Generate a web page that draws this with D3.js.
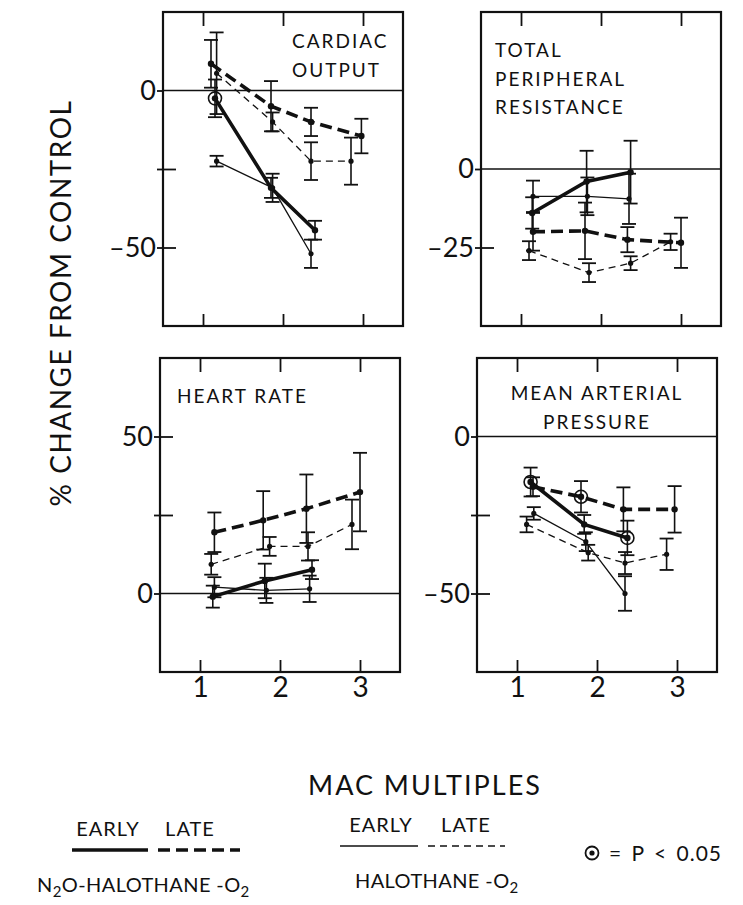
<!DOCTYPE html>
<html>
<head>
<meta charset="utf-8">
<script src="https://cdn.jsdelivr.net/npm/d3@7"></script>
<style>
  body { margin: 0; background: #fff; }
  text { font-family: Lato, "Open Sans", sans-serif; fill: #111; }
</style>
</head>
<body>
<script>
// each point: [MAC multiple, % change from control, SE, significant (1 = circled)]
var macTicks = [1, 2, 3];

// cardiac output
var coN2oEarly = [[1.15, -2.5, 6, 1], [1.85, -31, 3.2, 0], [2.4, -44.5, 3, 0]];
var coN2oLate  = [[1.1, 8.5, 7.6, 0], [1.85, -5, 8, 0], [2.35, -10, 4.5, 0], [2.98, -14.5, 5.5, 0]];
var coHalEarly = [[1.17, -22.5, 1.7, 0], [1.87, -31, 4.5, 0], [2.35, -52, 4.5, 0]];
var coHalLate  = [[1.17, 5.5, 13, 0], [1.87, -10, 3, 0], [2.35, -22.5, 6, 0], [2.85, -22.5, 7.5, 0]];

// total peripheral resistance
var tprN2oEarly = [[1.14, -14, 5, 0], [1.82, -4, 9.8, 0], [2.37, -1, 10, 0]];
var tprN2oLate  = [[1.15, -20, 6, 0], [1.8, -19.7, 9, 0], [2.33, -22.5, 4, 0], [3.0, -23.5, 8, 0]];
var tprHalEarly = [[1.15, -8.7, 5, 0], [1.83, -8.7, 6, 0], [2.35, -9.5, 8, 0]];
var tprHalLate  = [[1.1, -26, 3, 0], [1.85, -33, 3, 0], [2.37, -30, 2.2, 0], [2.87, -23.2, 2.6, 0]];

// heart rate
var hrN2oEarly = [[1.16, -1, 3.5, 0], [1.81, 4, 5.5, 0], [2.4, 7.6, 3, 0]];
var hrN2oLate  = [[1.18, 19.5, 6.3, 0], [1.79, 23.3, 9.3, 0], [2.33, 27, 10.9, 0], [3.0, 32.3, 12.5, 0]];
var hrHalEarly = [[1.18, 2, 3.2, 0], [1.83, 1, 4, 0], [2.37, 1.5, 4.2, 0]];
var hrHalLate  = [[1.14, 9.3, 3.3, 0], [1.87, 15, 3, 0], [2.35, 15, 4.5, 0], [2.9, 22, 7.9, 0]];

// mean arterial pressure
var mapN2oEarly = [[1.17, -14.5, 4.6, 1], [1.84, -28, 3, 0], [2.38, -32.3, 5.5, 1]];
var mapN2oLate  = [[1.2, -16, 3, 0], [1.8, -19.2, 5, 1], [2.33, -23.2, 7, 0], [2.97, -23.2, 7.4, 0]];
var mapHalEarly = [[1.21, -24.5, 2, 0], [1.86, -33.5, 3, 0], [2.35, -50, 5.5, 0]];
var mapHalLate  = [[1.12, -28, 2.5, 0], [1.89, -37, 2.5, 0], [2.35, -40.3, 3.5, 0], [2.87, -37.5, 5, 0]];

var svgWidth = 743, svgHeight = 905;
var panelW = 240, panelH = 314;

var styles = {
  n2oEarly: { width: 3.6, dash: null, r: 3.2 },
  n2oLate:  { width: 3.6, dash: '12,6', r: 3.2 },
  halEarly: { width: 1.3, dash: null, r: 2.6 },
  halLate:  { width: 1.3, dash: '7,5', r: 2.6 }
};

var panels = [
  { x0: 163, y0: 12, domain: [-75, 25], ticks: [-50, -25, 0], labels: [-50, 0],
    title: ['CARDIAC', 'OUTPUT'], tx: 292, ty: 48, anchor: 'start', bottom: false,
    series: { n2oEarly: coN2oEarly, n2oLate: coN2oLate, halEarly: coHalEarly, halLate: coHalLate } },
  { x0: 481, y0: 12, domain: [-50, 50], ticks: [-25, 0], labels: [-25, 0],
    title: ['TOTAL', 'PERIPHERAL', 'RESISTANCE'], tx: 495, ty: 57, anchor: 'start', bottom: false,
    series: { n2oEarly: tprN2oEarly, n2oLate: tprN2oLate, halEarly: tprHalEarly, halLate: tprHalLate } },
  { x0: 160, y0: 358, domain: [-25, 75], ticks: [0, 25, 50], labels: [0, 50],
    title: ['HEART RATE'], tx: 177, ty: 403, anchor: 'start', bottom: true,
    series: { n2oEarly: hrN2oEarly, n2oLate: hrN2oLate, halEarly: hrHalEarly, halLate: hrHalLate } },
  { x0: 477, y0: 358, domain: [-75, 25], ticks: [-50, -25, 0], labels: [-50, 0],
    title: ['MEAN ARTERIAL', 'PRESSURE'], tx: 597, ty: 400, anchor: 'middle', bottom: true,
    series: { n2oEarly: mapN2oEarly, n2oLate: mapN2oLate, halEarly: mapHalEarly, halLate: mapHalLate } }
];

var svg = d3.select('body').append('svg')
  .attr('width', svgWidth)
  .attr('height', svgHeight);

function fmt(d) { return d < 0 ? '\u2013' + Math.abs(d) : String(d); }

function drawPanel(p) {
  var g = svg.append('g');
  var x = d3.scaleLinear().domain([0.5, 3.5]).range([p.x0, p.x0 + panelW]);
  var y = d3.scaleLinear().domain(p.domain).range([p.y0 + panelH, p.y0]);

  // zero line
  g.append('line')
    .attr('x1', p.x0).attr('x2', p.x0 + panelW)
    .attr('y1', y(0)).attr('y2', y(0))
    .attr('stroke', '#111').attr('stroke-width', 1.3);

  // left axis: outer ticks + labels, inner ticks
  var yOut = g.append('g').attr('transform', 'translate(' + p.x0 + ',0)')
    .call(d3.axisLeft(y).tickValues(p.ticks).tickSize(6).tickPadding(1)
      .tickFormat(function (d) { return p.labels.indexOf(d) >= 0 ? fmt(d) : ''; }));
  var yIn = g.append('g').attr('transform', 'translate(' + p.x0 + ',0)')
    .call(d3.axisLeft(y).tickValues(p.ticks.filter(function (d) { return d !== 0; }))
      .tickSize(-13).tickFormat(''));

  // top and bottom inner ticks
  var xTop = g.append('g').attr('transform', 'translate(0,' + p.y0 + ')')
    .call(d3.axisTop(x).tickValues(macTicks).tickSize(-14).tickFormat(''));
  var xBot = g.append('g').attr('transform', 'translate(0,' + (p.y0 + panelH) + ')')
    .call(d3.axisBottom(x).tickValues(macTicks).tickSize(-12).tickFormat(''));

  [yOut, yIn, xTop, xBot].forEach(function (a) {
    a.select('.domain').remove();
    a.selectAll('line').attr('stroke', '#111').attr('stroke-width', 1.8);
  });
  yOut.selectAll('text').attr('font-size', 27).attr('font-family', 'Lato').attr('fill', '#111');

  if (p.bottom) {
    var xl = g.append('g').attr('transform', 'translate(0,' + (p.y0 + panelH) + ')')
      .call(d3.axisBottom(x).tickValues(macTicks).tickSize(0).tickPadding(5)
        .tickFormat(d3.format('d')));
    xl.select('.domain').remove();
    xl.selectAll('text').attr('font-size', 28).attr('font-family', 'Lato').attr('fill', '#111');
  }

  // frame
  g.append('rect')
    .attr('x', p.x0).attr('y', p.y0)
    .attr('width', panelW).attr('height', panelH)
    .attr('fill', 'none').attr('stroke', '#111').attr('stroke-width', 2.2);

  // title
  g.append('g').selectAll('text')
    .data(p.title).enter().append('text')
    .attr('x', p.tx)
    .attr('y', function (d, i) { return p.ty + i * 28.5; })
    .attr('text-anchor', p.anchor)
    .attr('font-size', 19)
    .attr('letter-spacing', 2)
    .text(function (d) { return d; });

  var line = d3.line()
    .x(function (d) { return x(d[0]); })
    .y(function (d) { return y(d[1]); });

  Object.keys(p.series).forEach(function (key) {
    var data = p.series[key];
    var st = styles[key];
    var s = g.append('g');

    // error bars
    var eb = s.selectAll('.eb').data(data).enter().append('g');
    eb.append('line')
      .attr('x1', function (d) { return x(d[0]); })
      .attr('x2', function (d) { return x(d[0]); })
      .attr('y1', function (d) { return y(d[1] + d[2]); })
      .attr('y2', function (d) { return y(d[1] - d[2]); })
      .attr('stroke', '#111').attr('stroke-width', 1.6);
    [1, -1].forEach(function (sign) {
      eb.append('line')
        .attr('x1', function (d) { return x(d[0]) - 7; })
        .attr('x2', function (d) { return x(d[0]) + 7; })
        .attr('y1', function (d) { return y(d[1] + sign * d[2]); })
        .attr('y2', function (d) { return y(d[1] + sign * d[2]); })
        .attr('stroke', '#111').attr('stroke-width', 1.8);
    });

    s.append('path')
      .datum(data)
      .attr('d', line)
      .attr('fill', 'none')
      .attr('stroke', '#111')
      .attr('stroke-width', st.width)
      .attr('stroke-dasharray', st.dash);

    s.selectAll('.pt').data(data).enter().append('circle')
      .attr('cx', function (d) { return x(d[0]); })
      .attr('cy', function (d) { return y(d[1]); })
      .attr('r', st.r)
      .attr('fill', '#111');

    s.selectAll('.sig').data(data.filter(function (d) { return d[3]; })).enter().append('circle')
      .attr('cx', function (d) { return x(d[0]); })
      .attr('cy', function (d) { return y(d[1]); })
      .attr('r', 6.5)
      .attr('fill', 'none')
      .attr('stroke', '#111').attr('stroke-width', 1.6);
  });
}

panels.forEach(drawPanel);

// y axis title
svg.append('text')
  .attr('transform', 'translate(71,303) rotate(-90)')
  .attr('text-anchor', 'middle')
  .attr('font-size', 28)
  .attr('letter-spacing', 1.5)
  .text('% CHANGE FROM CONTROL');

// x axis title
svg.append('text')
  .attr('x', 425).attr('y', 795)
  .attr('text-anchor', 'middle')
  .attr('font-size', 27)
  .attr('letter-spacing', 2)
  .text('MAC MULTIPLES');

// legend
var leg = svg.append('g');
function legendText(x, y, str, anchor) {
  return leg.append('text').attr('x', x).attr('y', y)
    .attr('text-anchor', anchor || 'middle')
    .attr('font-size', 20).attr('letter-spacing', 1).text(str);
}
function legendLine(x1, x2, y, st) {
  leg.append('line').attr('x1', x1).attr('x2', x2).attr('y1', y).attr('y2', y)
    .attr('stroke', '#111').attr('stroke-width', st.width)
    .attr('stroke-dasharray', st.dash);
}

legendText(108, 836, 'EARLY');
legendText(190, 836, 'LATE');
legendLine(72, 148, 850, styles.n2oEarly);
legendLine(158, 240, 850, styles.n2oLate);

legendText(381, 832, 'EARLY');
legendText(466, 832, 'LATE');
legendLine(340, 418, 846, styles.halEarly);
legendLine(428, 505, 846, styles.halLate);

function chemLabel(x, y, parts) {
  var t = leg.append('text').attr('x', x).attr('y', y).attr('font-size', 20).attr('letter-spacing', 0.4);
  parts.forEach(function (p) {
    t.append('tspan')
      .attr('dy', p[1] ? 5 : (p[2] ? -5 : 0))
      .attr('font-size', p[1] ? 15 : 20)
      .text(p[0]);
  });
}
chemLabel(37, 892, [['N', 0, 0], ['2', 1, 0], ['O-HALOTHANE -O', 0, 1], ['2', 1, 0]]);
chemLabel(355, 888, [['HALOTHANE -O', 0, 0], ['2', 1, 0]]);

leg.append('circle').attr('cx', 592).attr('cy', 853).attr('r', 6.5)
  .attr('fill', 'none').attr('stroke', '#111').attr('stroke-width', 1.8);
leg.append('circle').attr('cx', 592).attr('cy', 853).attr('r', 2.6).attr('fill', '#111');
legendText(609, 861, '= P < 0.05', 'start').attr('font-size', 21).attr('word-spacing', 3);
</script>
</body>
</html>
